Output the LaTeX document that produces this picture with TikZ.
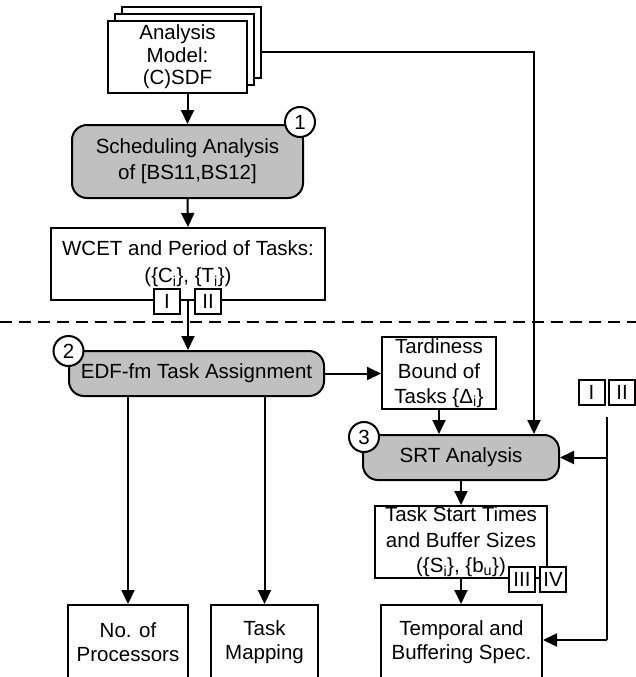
\documentclass[tikz,border=0pt]{standalone}
\usepackage{fontspec}
\setmainfont{Liberation Sans}
\usetikzlibrary{arrows.meta,calc}
\definecolor{procgray}{HTML}{C0C0C0}
\begin{document}
\begin{tikzpicture}[x=1pt,y=-1pt,
  box/.style={draw, fill=white, line width=2pt, align=center, inner sep=0pt,
    font=\fontsize{20.5}{25}\selectfont},
  proc/.style={box, fill=procgray, rounded corners=15pt},
  num/.style={circle, draw, fill=white, line width=2pt, minimum size=30pt, inner sep=0pt,
    font=\fontsize{20.5}{24}\selectfont},
  tagbox/.style={draw, fill=white, line width=2pt, minimum width=26pt, minimum height=25pt,
    inner sep=0pt, font=\fontsize{20.5}{24}\selectfont},
  arr/.style={-{Triangle[length=14pt,width=13pt]}, line width=2pt},
  ln/.style={line width=2pt}]
\useasboundingbox (0,0) rectangle (636,677);
\clip (0,0) rectangle (636,677);

% analysis model stack
\node[box, minimum width=139pt, minimum height=71pt] (am3) at (191.5,42.5) {};
\node[box, minimum width=139pt, minimum height=71pt] (am2) at (184.5,49.5) {};
\node[box, minimum width=139pt, minimum height=71pt, font=\fontsize{20.5}{22.5}\selectfont] (am) at (177.5,57) {Analysis\\Model:\\(C)SDF};

% step 1
\node[proc, minimum width=231pt, minimum height=73pt, font=\fontsize{20.5}{26}\selectfont] (sched) at (187.5,161.5) {Scheduling Analysis\\of [BS11,BS12]};
\node[num] (n1) at (300,122) {1};

\node[box, minimum width=274pt, minimum height=72pt, font=\fontsize{20.5}{27}\selectfont] (wcet) at (188,264) {WCET and Period of Tasks:\\
  (\{C\textsubscript{i}\}, \{T\textsubscript{i}\})};
\node[tagbox] (t1) at (167,301.5) {I};
\node[tagbox] (t2) at (208,301.5) {II};

% dashed separator
\coordinate (dl) at (0,322);
\coordinate (dr) at (636,322);
\draw[ln, dash pattern=on 12pt off 7pt] (dl) -- (dr);

% step 2
\node[proc, minimum width=255pt, minimum height=45pt] (edf) at (196.5,373.5) {EDF-fm Task Assignment};
\node[num] (n2) at (68.5,351) {2};

\node[box, minimum width=120pt, minimum height=74pt, font=\fontsize{20.5}{24}\selectfont] (np) at (128,642) {No. of\\Processors};
\node[box, minimum width=107pt, minimum height=74pt, font=\fontsize{20.5}{24}\selectfont] (tm) at (264.5,642) {Task\\Mapping};

\node[box, minimum width=114pt, minimum height=72pt] (tard) at (439,373) {Tardiness\\Bound of\\Tasks \{Δ\textsubscript{i}\}};

% step 3
\node[proc, minimum width=196pt, minimum height=45pt] (srt) at (461,457.5) {SRT Analysis};
\node[num] (n3) at (364,437) {3};

\node[box, minimum width=172pt, minimum height=72pt, font=\fontsize{20.5}{25.5}\selectfont] (ts) at (461,542) {Task Start Times\\and Buffer Sizes\\(\{S\textsubscript{i}\}, \{b\textsubscript{u}\})};
\node[tagbox] (t3) at (522,579.5) {III};
\node[tagbox] (t4) at (553,579.5) {IV};

\node[box, minimum width=161pt, minimum height=74pt, font=\fontsize{20.5}{24}\selectfont] (temp) at (461.5,642) {Temporal and\\Buffering Spec.};

\node[tagbox] (t5) at (591.5,392.5) {I};
\node[tagbox] (t6) at (622,392.5) {II};

% connectors
\draw[arr] (am.south -| sched.north) -- (sched.north);
\draw[arr] (sched.south) -- (wcet.north);
\draw[arr] (wcet.south) -- (wcet.south |- edf.north);
\node[tagbox] at (t1) {I};
\node[tagbox] at (t2) {II};

\coordinate (c1) at (534,52);
\draw[arr] (am3.east |- c1) -- (c1) -- (c1 |- srt.north);

\draw[arr] (edf.east) -- (edf.east -| tard.west);
\draw[arr] (np.north |- edf.south) -- (np.north);
\draw[arr] (tm.north |- edf.south) -- (tm.north);
\draw[arr] (tard.south) -- (tard.south |- srt.north);
\draw[arr] (srt.south) -- (ts.north);
\draw[arr] (ts.south) -- (ts.south |- temp.north);

\coordinate (r1) at (607,417);
\coordinate (r2) at (607,640);
\draw[ln] (r1) -- (r2);
\draw[arr] (r1 |- srt.east) -- (srt.east);
\draw[arr] (r2) -- (r2 -| temp.east);
\end{tikzpicture}
\end{document}
